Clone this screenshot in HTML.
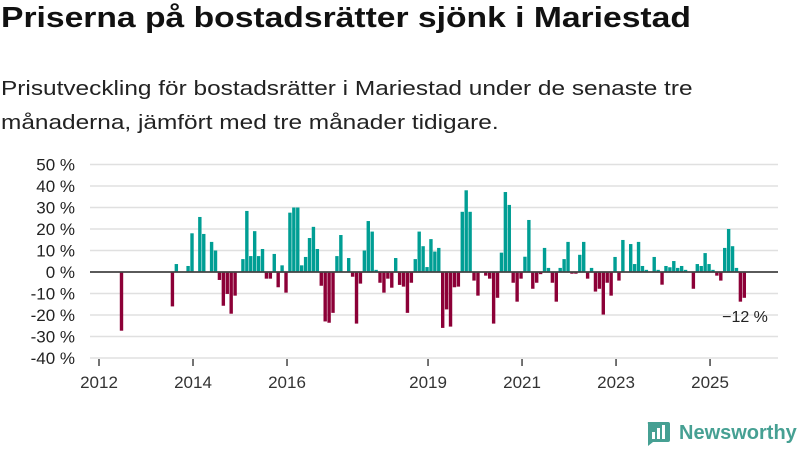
<!DOCTYPE html>
<html><head><meta charset="utf-8"><style>
body{margin:0;background:#fff;width:800px;height:450px;overflow:hidden;font-family:"Liberation Sans","DejaVu Sans",sans-serif;color:#111}
#t{position:absolute;left:1px;top:2px;font-size:29px;font-weight:bold;margin:0;white-space:nowrap;transform-origin:0 0;transform:scaleX(1.16)}
#s{position:absolute;left:1px;top:72px;font-size:20.5px;line-height:34px;margin:0;color:#222;white-space:nowrap;transform-origin:0 0;transform:scaleX(1.19)}
svg{position:absolute;left:0;top:0}
</style></head><body>
<h1 id="t">Priserna på bostadsrätter sjönk i Mariestad</h1>
<p id="s">Prisutveckling för bostadsrätter i Mariestad under de senaste tre<br>månaderna, jämfört med tre månader tidigare.</p>
<svg id="c" width="800" height="450"></svg>
<script>
const yTicks=[50,40,30,20,10,0,-10,-20,-30,-40];
const xTickYears=[2012,2014,2016,2019,2021,2023,2025];
const values=[null,null,null,null,null,null,-27.3,null,null,null,null,null,null,null,null,null,null,null,null,-16,3.7,null,null,2.8,18,null,25.6,17.7,null,14,10,-3.7,-15.7,-10.2,-19.4,-11,null,6,28.4,7.4,19,7.4,10.7,-3.1,-3.1,8.4,-7.1,3.1,-9.6,27.6,30,30,3.1,7,15.8,21,10.7,-6.4,-23,-23.6,-19,7.4,17.2,null,6.5,-2.2,-24,-5.4,10,23.7,18.8,1,-5,-9.6,-3.1,-7.3,6.5,-6,-6.8,-19,-5,6,18.8,12,2.3,15.3,9.5,11.2,-26,-17.4,-25.4,-7.1,-6.8,28,38,28,-4,-11,null,-1.7,-3.1,-24,-12,9,37.2,31.2,-5,-13.8,-3.1,7.1,24.2,-7.8,-5,-1,11.2,1.9,-5,-13.8,1.9,6,14,-0.8,-0.8,8,14,-3.1,1.9,-9.1,-7.8,-19.8,-5,-11,7,-4,14.9,null,13,3.7,14,2.8,1,null,7,1,-5.9,2.8,2.2,5.1,1.9,2.8,1,null,-7.8,3.7,2.8,8.8,3.7,1,-1.7,-4,11.2,20,12,1.9,-13.8,-12];
const NS="http://www.w3.org/2000/svg",svg=document.getElementById('c');
const y=v=>272-v*2.15;
const x=m=>99+m*3.917;
function mk(t,a,txt){const e=document.createElementNS(NS,t);for(const k in a)e.setAttribute(k,a[k]);if(txt!=null)e.textContent=txt;svg.appendChild(e);return e;}
yTicks.forEach(v=>{
 const g=mk('line',{x1:90,x2:778,y1:y(v),y2:y(v),stroke:'#e0e0e0','stroke-width':1.5});
 
 
 const t=mk('text',{x:75,y:y(v)+6,'text-anchor':'end','font-size':17,fill:'#222'},v+' %');
 
 
});
xTickYears.forEach(yr=>{
 const xx=x((yr-2012)*12);
 const l=mk('line',{x1:xx,x2:xx,y1:359,y2:366,stroke:'#444','stroke-width':1.5});
 
 
 const t=mk('text',{x:xx,y:388,'text-anchor':'middle','font-size':17,fill:'#333'},yr);
 
 
});
values.forEach((v,m)=>{
 if(v==null)return;
 const b=mk('rect',{x:x(m)-1.7-1,y:Math.min(y(v),y(0)),width:3.4,height:Math.abs(y(v)-y(0)),fill:v>=0?'#009e94':'#8c0037'});
 
 
});
const z=mk('line',{x1:90,x2:778,y1:y(0),y2:y(0),stroke:'#444','stroke-width':1.8});


const last=values[values.length-1];
const an=mk('text',{x:745,y:y(last)+24,'text-anchor':'middle','font-size':16,fill:'#222'},'−'+Math.abs(last)+' %');


</script>
<div style="position:absolute;left:645px;top:420px;display:flex;align-items:center">
<svg width="26" height="26" style="position:static" viewBox="0 0 26 26"><path d="M3 2h20a2 2 0 0 1 2 2v16a2 2 0 0 1-2 2H8l-5 4V4a2 2 0 0 1 0-2z" fill="#46a093"/><rect x="7" y="12" width="3" height="7" fill="#fff"/><rect x="12" y="8" width="3" height="11" fill="#fff"/><rect x="17" y="5" width="3" height="14" fill="#fff"/></svg>
<span style="font-size:20px;font-weight:bold;color:#46a093;margin-left:8px">Newsworthy</span></div>
</body></html>
